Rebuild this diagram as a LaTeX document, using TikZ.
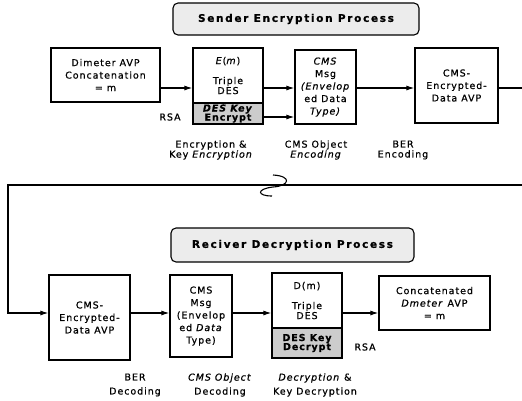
\documentclass[tikz,border=0pt]{standalone}
\usepackage{fontspec}
\setmainfont{DejaVu Sans}[LetterSpace=10, FakeBold=0.7]
\usetikzlibrary{arrows.meta}

\begin{document}
\begin{tikzpicture}[x=1pt, y=-1pt,
    box/.style={draw, line width=1.2pt, rectangle, align=center, inner sep=0pt, font=\fontsize{9.5}{12.5}\selectfont},
    desbox/.style={box, font=\fontsize{9.5}{10}\selectfont},
    keybox/.style={draw, line width=1.2pt, rectangle, fill=gray!40, align=center, inner sep=0pt, font=\bfseries\fontsize{9.5}{9}\selectfont},
    title/.style={draw, line width=1.1pt, rounded corners=5pt, fill=gray!15, inner sep=0pt, font=\bfseries\fontsize{10.5}{12}\selectfont\addfontfeatures{LetterSpace=16}},
    stagelabel/.style={align=center, inner sep=0pt, font=\fontsize{9.5}{10}\selectfont},
    arr/.style={line width=1.1pt, -{Latex[length=8pt,width=5pt]}}]
    \useasboundingbox (0,0) rectangle (522,400);

    % Sender
    \node[title, minimum width=246pt, minimum height=32pt] (stitle) at (296,19) {Sender Encryption Process};
    \node[box, minimum width=109pt, minimum height=54pt] (s1) at (105.5,75) {Dimeter AVP\\Concatenation\\= m};
    \node[desbox, minimum width=70pt, minimum height=55pt] (s2) at (228,75.5) {\textit{E}(\textit{m})\\[10pt]Triple\\DES};
    \node[keybox, minimum width=70pt, minimum height=21pt] (s2k) at (228,113.5) {\textit{DES Key}\\Encrypt};
    \node[box, minimum width=61pt, minimum height=74pt] (s3) at (325.5,87) {\textit{CMS}\\Msg\\\textit{(Envelop}\\ed Data\\\textit{Type)}};
    \node[box, minimum width=83pt, minimum height=75pt] (s4) at (456.5,85.5) {CMS-\\Encrypted-\\Data AVP};
    \node[font=\fontsize{9.5}{10}\selectfont] (rsa1) at (170,117) {RSA};

    \node[stagelabel] (senc) at (211,150) {Encryption \&\\Key \textit{Encryption}};
    \node[stagelabel] (scms) at (316,150) {CMS Object\\\textit{Encoding}};
    \node[stagelabel] (sber) at (403,150) {BER\\Encoding};

    % Receiver
    \node[title, minimum width=243pt, minimum height=34pt] (rtitle) at (292.5,245) {Reciver Decryption Process};
    \node[box, minimum width=81pt, minimum height=85pt] (r1) at (89.5,317.5) {CMS-\\Encrypted-\\Data AVP};
    \node[box, minimum width=62pt, minimum height=82pt] (r2) at (201,316) {CMS\\Msg\\(Envelop\\ed \textit{Data}\\Type)};
    \node[desbox, minimum width=70pt, minimum height=55pt] (r3) at (307,300.5) {D(m)\\[10pt]Triple\\DES};
    \node[keybox, minimum width=70pt, minimum height=30pt] (r3k) at (307,343) {DES Key\\Decrypt};
    \node[box, minimum width=111pt, minimum height=54pt] (r4) at (434.5,303) {Concatenated\\\textit{Dmeter} AVP\\= m};
    \node[font=\fontsize{9.5}{10}\selectfont] (rsa2) at (365,347) {RSA};

    \node[stagelabel, font=\fontsize{9.5}{14}\selectfont] (rber) at (135,385) {BER\\Decoding};
    \node[stagelabel, font=\fontsize{9.5}{14}\selectfont] (rcms) at (220,385) {\textit{CMS Object}\\Decoding};
    \node[stagelabel, font=\fontsize{9.5}{14}\selectfont] (rdec) at (315,385) {\textit{Decryption} \&\\Key Decryption};

    % connectors
    \coordinate (sline) at (0,88);
    \coordinate (kline) at (0,117);
    \coordinate (rline) at (0,313);
    \coordinate (out1) at (522,88);
    \coordinate (in2) at (522,185);
    \coordinate (bend) at (8,185);

    \draw[arr] (s1.east |- sline) -- (s2.west |- sline);
    \draw[arr] (s2.east |- sline) -- (s3.west |- sline);
    \draw[arr] (s2k.east |- kline) -- (s3.west |- kline);
    \draw[arr] (s3.east |- sline) -- (s4.west |- sline);
    \draw[line width=1.1pt] (s4.east |- sline) -- (out1);

    \draw[arr] (in2) -- (bend) |- (r1.west |- rline);
    \draw[arr] (r1.east |- rline) -- (r2.west |- rline);
    \draw[arr] (r2.east |- rline) -- (r3.west |- rline);
    \draw[arr] (r3.east |- rline) -- (r4.west |- rline);

    % break mark
    \draw[line width=1.1pt] (273,175) .. controls (292,176) and (290,186) .. (273,187) .. controls (256,189) and (257,196) .. (272,196);
\end{tikzpicture}
\end{document}
